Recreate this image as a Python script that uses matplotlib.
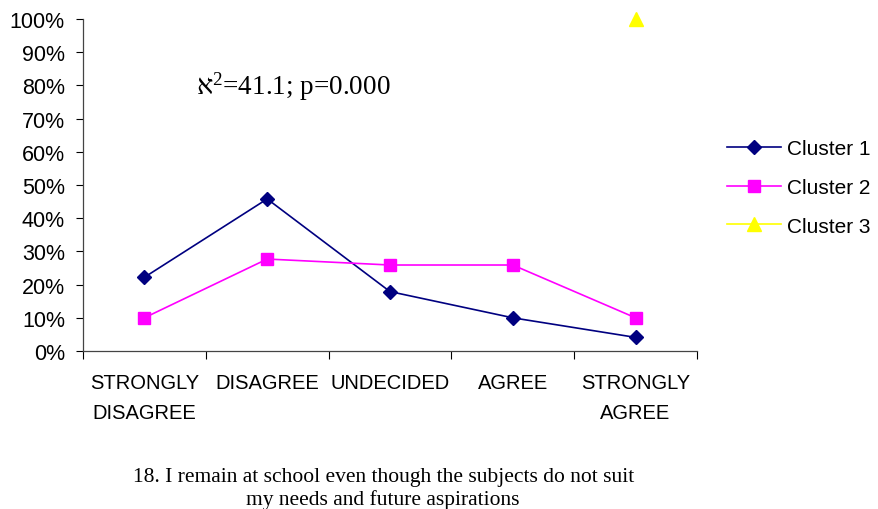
import matplotlib.pyplot as plt
from matplotlib import ticker

# Chart data
categories = ['STRONGLY\nDISAGREE', 'DISAGREE', 'UNDECIDED', 'AGREE', 'STRONGLY\nAGREE']
cluster1 = [22.2, 45.8, 17.9, 10.0, 4.1]
cluster2 = [10.0, 27.7, 25.9, 25.9, 10.0]
cluster3 = [None, None, None, None, 100.0]
caption = '18. I remain at school even though the subjects do not suit\nmy needs and future aspirations'
stat_text = 'א$^2$=41.1; p=0.000'

plt.rcParams['font.family'] = ['Liberation Sans', 'DejaVu Sans']
plt.rcParams['mathtext.fontset'] = 'custom'
plt.rcParams['mathtext.rm'] = 'Liberation Serif'
plt.rcParams['mathtext.it'] = 'Liberation Serif'

fig = plt.figure(figsize=(8.79, 5.10), dpi=100)
ax = fig.add_axes([0.0944, 0.3098, 0.6985, 0.651])

x = list(range(len(categories)))
ax.plot(x, cluster1, color='#000080', marker='D', markersize=7, linewidth=1.2,
        label='Cluster 1')
ax.plot(x, cluster2, color='#ff00ff', marker='s', markersize=9, linewidth=1.2,
        label='Cluster 2')
x3 = [i for i, v in zip(x, cluster3) if v is not None]
y3 = [v for v in cluster3 if v is not None]
ax.plot(x3, y3, color='#ffff00', marker='^', markersize=10, linewidth=1.2,
        label='Cluster 3', clip_on=False)

ax.set_xlim(-0.5, len(categories) - 0.5)
ax.set_ylim(0, 100)

# y axis
ax.yaxis.set_major_locator(ticker.MultipleLocator(10))
ax.yaxis.set_major_formatter(ticker.FuncFormatter(lambda v, pos: f'{v:.0f}%'))
ax.tick_params(axis='y', direction='out', length=5, width=0.8, labelsize=15.5, pad=8)

# x axis: labels at category centres, tick marks at boundaries
ax.set_xticks(x)
ax.set_xticklabels(categories, fontsize=14.5, linespacing=1.75)
ax.set_xticks([i + 0.5 for i in range(-1, len(categories))], minor=True)
ax.tick_params(axis='x', which='major', length=0, pad=16)
ax.tick_params(axis='x', which='minor', direction='out', length=6, width=0.8)

for side in ['top', 'right']:
    ax.spines[side].set_visible(False)
for side in ['left', 'bottom']:
    ax.spines[side].set_color('#444444')
    ax.spines[side].set_linewidth(0.9)

ax.text(0.184, 0.775, stat_text, transform=ax.transAxes, fontsize=19.5,
        family=['Liberation Serif', 'DejaVu Sans'])

legend = fig.legend(loc='upper left', bbox_to_anchor=(727 / 879, 1 - 140 / 510),
                    frameon=False, fontsize=15, handlelength=2.6,
                    labelspacing=0.95, handletextpad=0.3, borderpad=0,
                    borderaxespad=0)

fig.text(0.436, 0.0, caption, ha='center', va='bottom', fontsize=15.5,
         family='Liberation Serif', linespacing=1.2)

plt.savefig('out.png', dpi=100)
